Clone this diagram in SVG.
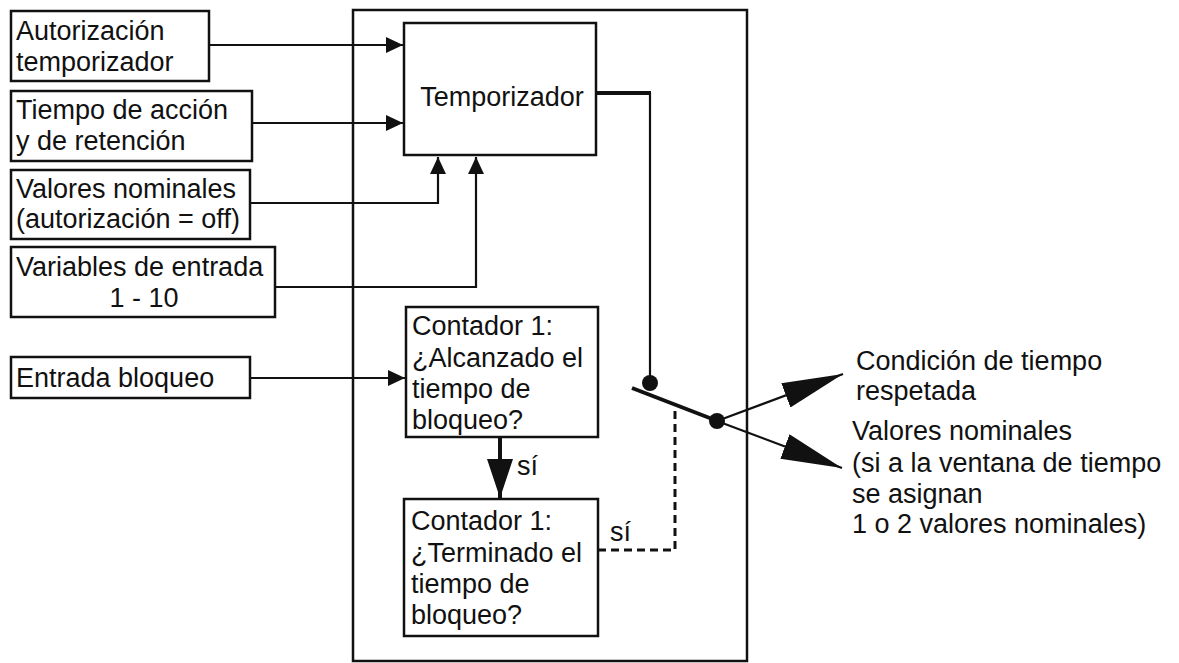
<svg xmlns="http://www.w3.org/2000/svg" width="1179" height="663" viewBox="0 0 1179 663">
<style>
.box{fill:#fff;stroke:#111;stroke-width:2.5}
.frame{fill:none;stroke:#111;stroke-width:2.5}
.t{font-family:"Liberation Sans",Arial,sans-serif;font-size:27px;fill:#111}
.ln{fill:none;stroke:#111;stroke-width:2.2}
.thick{fill:none;stroke:#111;stroke-width:4}
.dash{fill:none;stroke:#111;stroke-width:3;stroke-dasharray:8 5}
</style>
<defs>
<marker id="ah" markerUnits="userSpaceOnUse" markerWidth="18" markerHeight="16" refX="17" refY="8" orient="auto">
<path d="M0,0 L17,8 L0,16 Z" fill="#111"/>
</marker>
<marker id="big" markerUnits="userSpaceOnUse" markerWidth="62" markerHeight="26" refX="61" refY="13" orient="auto">
<path d="M0,0 L61,13 L0,26 Z" fill="#111"/>
</marker>
<marker id="mid" markerUnits="userSpaceOnUse" markerWidth="40" markerHeight="28" refX="39" refY="14" orient="auto">
<path d="M0,1 L39,14 L0,27 Z" fill="#111"/>
</marker>
</defs>

<rect class="frame" x="353" y="10" width="394" height="651"/>

<g id="n_autorizacion">
<rect class="box" x="11" y="11" width="198" height="70"/>
<text class="t" x="16" y="40">Autorización</text>
<text class="t" x="16" y="71">temporizador</text>
</g>
<g id="n_tiempo">
<rect class="box" x="11" y="91" width="241" height="70"/>
<text class="t" x="16" y="119">Tiempo de acción</text>
<text class="t" x="16" y="150">y de retención</text>
</g>
<g id="n_valores">
<rect class="box" x="11" y="170" width="239" height="69"/>
<text class="t" x="16" y="198">Valores nominales</text>
<text class="t" x="16" y="228">(autorización = off)</text>
</g>
<g id="n_variables">
<rect class="box" x="11" y="247" width="264" height="70"/>
<text class="t" x="16" y="276">Variables de entrada</text>
<text class="t" x="144" y="307" text-anchor="middle">1 - 10</text>
</g>
<g id="n_entrada">
<rect class="box" x="11" y="357" width="239" height="41"/>
<text class="t" x="16" y="387">Entrada bloqueo</text>
</g>
<g id="n_temporizador">
<rect class="box" x="404" y="23" width="192" height="132"/>
<text class="t" x="502" y="106" text-anchor="middle">Temporizador</text>
</g>
<g id="n_contador1">
<rect class="box" x="406" y="307" width="192" height="130"/>
<text class="t" x="412" y="335">Contador 1:</text>
<text class="t" x="412" y="367">¿Alcanzado el</text>
<text class="t" x="412" y="398">tiempo de</text>
<text class="t" x="412" y="429">bloqueo?</text>
</g>
<g id="n_contador2">
<rect class="box" x="404" y="499" width="194" height="137"/>
<text class="t" x="411" y="530">Contador 1:</text>
<text class="t" x="411" y="562">¿Terminado el</text>
<text class="t" x="411" y="593">tiempo de</text>
<text class="t" x="411" y="624">bloqueo?</text>
</g>
<g id="n_condicion">
<text class="t" x="856" y="370">Condición de tiempo</text>
<text class="t" x="856" y="400">respetada</text>
</g>
<g id="n_salida_valores">
<text class="t" x="852" y="440">Valores nominales</text>
<text class="t" x="852" y="472">(si a la ventana de tiempo</text>
<text class="t" x="852" y="503">se asignan</text>
<text class="t" x="852" y="533">1 o 2 valores nominales)</text>
</g>

<g id="connectors">
<path class="ln" d="M209,45 H403" marker-end="url(#ah)"/>
<path class="ln" d="M252,123 H403" marker-end="url(#ah)"/>
<path class="ln" d="M250,203 H438 V157" marker-end="url(#ah)"/>
<path class="ln" d="M275,287 H476 V157" marker-end="url(#ah)"/>
<path class="ln" d="M250,378 H405" marker-end="url(#ah)"/>
<path class="thick" d="M597,93 H651"/>
<path class="ln" d="M650,93 V380"/>
<circle cx="650" cy="383" r="8" fill="#111"/>
<path class="thick" d="M632,388 L720,422"/>
<circle cx="717" cy="421" r="8" fill="#111"/>
<path class="ln" d="M717,421 L843,374" marker-end="url(#big)"/>
<path class="ln" d="M717,421 L842,468" marker-end="url(#big)"/>
<path class="thick" d="M500,438 V498" marker-end="url(#mid)"/>
<text class="t" x="517" y="475">sí</text>
<path class="dash" d="M598,550 H675 V406"/>
<text class="t" x="610" y="541">sí</text>
</g>
</svg>
